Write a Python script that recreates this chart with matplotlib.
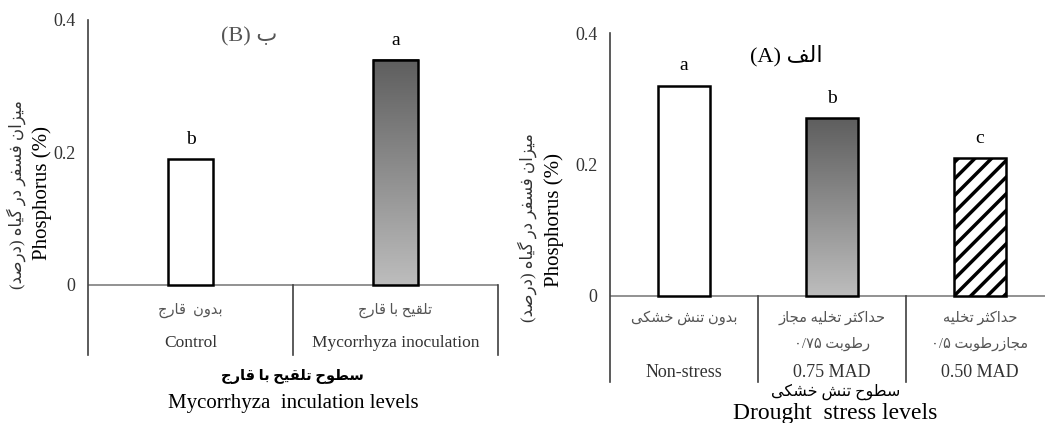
import numpy as np
import matplotlib
matplotlib.use("Agg")
import matplotlib.pyplot as plt
from matplotlib.colors import LinearSegmentedColormap

# Data - panel B (mycorrhiza)
b_cats_fa = ["بدون  قارج", "تلقیح با قارج"]
b_cats_en = ["Control", "Mycorrhyza inoculation"]
b_values = [0.19, 0.34]
b_letters = ["b", "a"]

# Data - panel A (drought)
a_cats_fa1 = ["بدون تنش خشکی", "حداکثر تخلیه مجاز", "حداکثر تخلیه"]
a_cats_fa2 = ["", "رطوبت ۰/۷۵", "مجازرطوبت ۰/۵"]
a_cats_en = ["Non-stress", "0.75 MAD", "0.50 MAD"]
a_values = [0.32, 0.27, 0.21]
a_letters = ["a", "b", "c"]

yticks = [0, 0.2, 0.4]
ytick_labels = ["0", "0.2", "0.4"]

# simple Persian shaping (matplotlib has no arabic shaping)
FORMS = {
    'ا': ('\uFE8D', '\uFE8E', None, None),
    'ب': ('\uFE8F', '\uFE90', '\uFE91', '\uFE92'),
    'ت': ('\uFE95', '\uFE96', '\uFE97', '\uFE98'),
    'ث': ('\uFE99', '\uFE9A', '\uFE9B', '\uFE9C'),
    'ج': ('\uFE9D', '\uFE9E', '\uFE9F', '\uFEA0'),
    'ح': ('\uFEA1', '\uFEA2', '\uFEA3', '\uFEA4'),
    'خ': ('\uFEA5', '\uFEA6', '\uFEA7', '\uFEA8'),
    'د': ('\uFEA9', '\uFEAA', None, None),
    'ر': ('\uFEAD', '\uFEAE', None, None),
    'ز': ('\uFEAF', '\uFEB0', None, None),
    'س': ('\uFEB1', '\uFEB2', '\uFEB3', '\uFEB4'),
    'ش': ('\uFEB5', '\uFEB6', '\uFEB7', '\uFEB8'),
    'ص': ('\uFEB9', '\uFEBA', '\uFEBB', '\uFEBC'),
    'ط': ('\uFEC1', '\uFEC2', '\uFEC3', '\uFEC4'),
    'ف': ('\uFED1', '\uFED2', '\uFED3', '\uFED4'),
    'ق': ('\uFED5', '\uFED6', '\uFED7', '\uFED8'),
    'ل': ('\uFEDD', '\uFEDE', '\uFEDF', '\uFEE0'),
    'م': ('\uFEE1', '\uFEE2', '\uFEE3', '\uFEE4'),
    'ن': ('\uFEE5', '\uFEE6', '\uFEE7', '\uFEE8'),
    'ه': ('\uFEE9', '\uFEEA', '\uFEEB', '\uFEEC'),
    'و': ('\uFEED', '\uFEEE', None, None),
    'ی': ('\uFBFC', '\uFBFD', '\uFBFE', '\uFBFF'),
    'ک': ('\uFB8E', '\uFB8F', '\uFB90', '\uFB91'),
    'گ': ('\uFB92', '\uFB93', '\uFB94', '\uFB95'),
}
MIRROR = {'(': ')', ')': '('}


def shape_word(w):
    out = []
    for i, ch in enumerate(w):
        if ch not in FORMS:
            out.append(ch)
            continue
        prev = w[i - 1] if i > 0 else None
        nxt = w[i + 1] if i + 1 < len(w) else None
        jp = prev in FORMS and FORMS[prev][2] is not None
        jn = nxt in FORMS and FORMS[ch][2] is not None
        iso, fin, ini, med = FORMS[ch]
        if jp and jn:
            out.append(med)
        elif jp:
            out.append(fin)
        elif jn:
            out.append(ini)
        else:
            out.append(iso)
    return ''.join(MIRROR.get(c, c) for c in reversed(out))


def fa(text):
    words = text.split(' ')
    vis = [shape_word(w) if any(c in FORMS for c in w) else w for w in words]
    return ' '.join(reversed(vis))


FAM = ['Liberation Serif', 'DejaVu Sans']
plt.rcParams['font.family'] = FAM
plt.rcParams['hatch.linewidth'] = 2.5

W, H = 1045, 423
fig = plt.figure(figsize=(W / 100, H / 100), dpi=100)
grad = LinearSegmentedColormap.from_list("g", ["#bdbdbd", "#5e5e5e"])
AX_COL = "#7f7f7f"


def panel(rect, values, ymin, width, letters):
    ax = fig.add_axes(rect)
    x = np.arange(len(values))
    for s in ["top", "right", "bottom"]:
        ax.spines[s].set_visible(False)
    ax.spines["left"].set_color("#404040")
    ax.spines["left"].set_linewidth(1.2)
    ax.axhline(0, color=AX_COL, lw=1.2, zorder=1)
    for b in np.arange(len(values)) + 0.5:
        ax.plot([b, b], [ymin, 0], color="#404040", lw=1.2, clip_on=False)
    ax.set_xticks([])
    ax.set_yticks(yticks)
    ax.set_yticklabels(ytick_labels, fontsize=13, color="#333333")
    ax.tick_params(axis="y", length=0, pad=9)
    bars = ax.bar(x, values, width=width, color="white", edgecolor="black",
                  linewidth=1.8, zorder=3)
    for xi, v, l in zip(x, values, letters):
        ax.annotate(l, (xi, v), xytext=(0, 8), textcoords="offset points",
                    ha="center", va="bottom", fontsize=14)
    return ax, bars


def gradient_fill(ax, bar):
    x0, w, h = bar.get_x(), bar.get_width(), bar.get_height()
    g = np.linspace(0, 1, 256).reshape(-1, 1)
    ax.imshow(g, extent=[x0, x0 + w, 0, h], origin="lower", cmap=grad,
              aspect="auto", zorder=2.5)
    bar.set_facecolor("none")


# ---- panel B (left)
axB, barsB = panel([88 / W, (H - 355) / H, 410 / W, 335 / H], b_values, -0.106, 0.22, b_letters)
gradient_fill(axB, barsB[1])
axB.set_xlim(-0.5, 1.5)
axB.set_ylim(-0.106, 0.4)
for i in range(len(b_values)):
    axB.text(i, -0.038, fa(b_cats_fa[i]), ha="center", va="center", fontsize=10.5, color="#555555")
    axB.text(i, -0.088, b_cats_en[i], ha="center", va="center", fontsize=12.5, color="#333333")
axB.text(0.285, 0.375, "(B) " + fa("ب"), ha="center", va="center", fontsize=16, color="#555555")

fig.text(16 / W, 1 - 195 / H, fa("میزان فسفر در گیاه (درصد)"), rotation=90,
         ha="center", va="center", fontsize=12, color="#333333")
fig.text(42 / W, 1 - 193 / H, "Phosphorus (%)", rotation=90,
         ha="center", va="center", fontsize=15)
fig.text(292 / W, 1 - 377 / H, fa("سطوح تلقیح با قارج"), ha="center", va="center",
         fontsize=10.5, fontweight="bold")
fig.text(293 / W, 1 - 403 / H, "Mycorrhyza  inculation levels", ha="center", va="center",
         fontsize=15)

# ---- panel A (right)
axA, barsA = panel([610 / W, (H - 382) / H, 444 / W, 349 / H], a_values, -0.131, 0.345, a_letters)
gradient_fill(axA, barsA[1])
barsA[2].set_hatch("//")
axA.set_xlim(-0.5, 2.5)
axA.set_ylim(-0.131, 0.4)
for i in range(len(a_values)):
    axA.text(i, -0.033, fa(a_cats_fa1[i]), ha="center", va="center", fontsize=10.5, color="#555555")
    if a_cats_fa2[i]:
        axA.text(i, -0.073, fa(a_cats_fa2[i]), ha="center", va="center", fontsize=10.5, color="#555555")
    axA.text(i, -0.117, a_cats_en[i], ha="center", va="center", fontsize=13, color="#333333")
axA.text(0.69, 0.365, "(A) " + fa("الف"), ha="center", va="center", fontsize=16)

fig.text(527 / W, 1 - 228 / H, fa("میزان فسفر در گیاه (درصد)"), rotation=90,
         ha="center", va="center", fontsize=12, color="#333333")
fig.text(554 / W, 1 - 220 / H, "Phosphorus (%)", rotation=90,
         ha="center", va="center", fontsize=15)
fig.text(836 / W, 1 - 392 / H, fa("سطوح تنش خشکی"), ha="center", va="center",
         fontsize=11.5)
fig.text(835 / W, 1 - 413 / H, "Drought  stress levels", ha="center", va="center",
         fontsize=17)

fig.savefig("out.png", dpi=100)
